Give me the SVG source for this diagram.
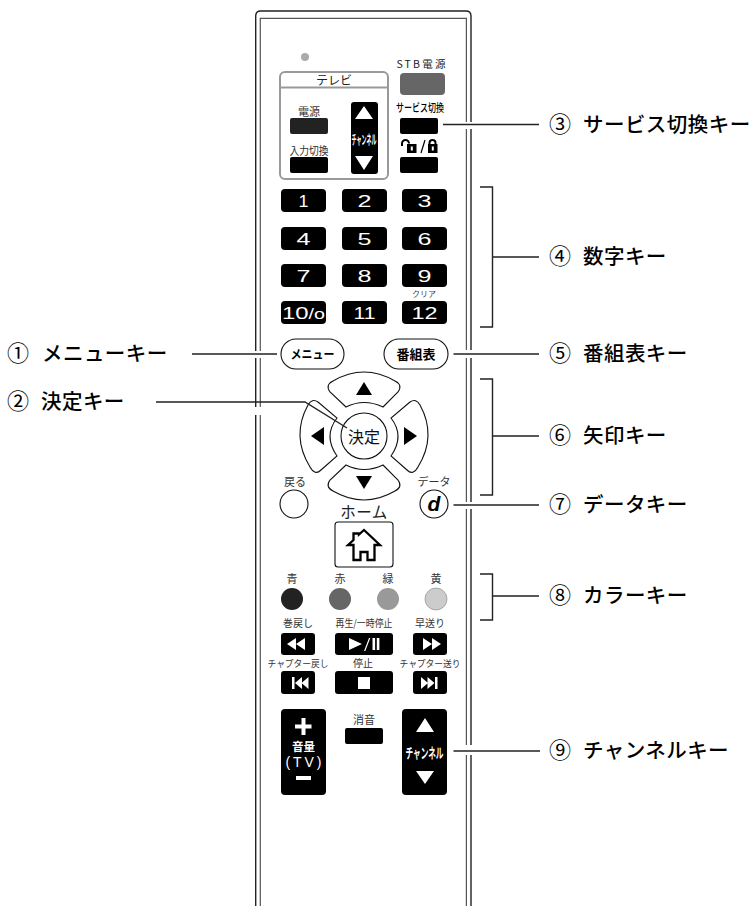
<svg xmlns="http://www.w3.org/2000/svg" width="754" height="906" viewBox="0 0 754 906">
<defs><style>
text{font-family:"Noto Sans CJK JP","Liberation Sans",sans-serif;text-anchor:middle;fill:#222}
.lab{font-size:20.5px;text-anchor:start;fill:#000;letter-spacing:.45px;font-weight:500}
.num{font-size:22px;text-anchor:start;fill:#000}
.s{font-size:11px;fill:#333}
.w{fill:#fff}
.d{font-family:"Liberation Sans",sans-serif;font-size:17px;fill:#fff}
.k{fill:#000}
.o{fill:#fff;stroke:#111;stroke-width:1.1}
.ln{fill:none;stroke:#222;stroke-width:1.4}
.gap{fill:#fff}
</style></defs>
<rect width="754" height="906" fill="#fff"/>
<g id="body" fill="none">
<path d="M255.7 906V16q0-5 5-5H466q5 0 5 5V906" stroke="#222" stroke-width="1.4"/>
<path d="M260.3 906V18.3H466.4V906" stroke="#555" stroke-width="1.2"/>
</g>
<g id="led"><circle cx="305" cy="57" r="4" fill="#aaa"/></g>
<g id="tv-panel">
<rect x="280" y="72" width="108" height="107" rx="5" fill="none" stroke="#999" stroke-width="2"/>
<path d="M280 87.500H388" stroke="#999" stroke-width="2"/>
<text x="334" y="84.500" font-size="12">テレビ</text>
</g>
<g id="tv-power"><text class="s" x="309" y="116">電源</text><rect x="290" y="118" width="38" height="16" rx="2" fill="#222"/></g>
<g id="tv-input"><text class="s" x="309" y="155" textLength="39" lengthAdjust="spacingAndGlyphs">入力切換</text><rect class="k" x="290" y="157" width="38" height="16" rx="2"/></g>
<g id="tv-channel"><rect class="k" x="351" y="102" width="27" height="72" rx="3"/>
<path class="w" d="M364 106l9 13h-18zM364 170l-9-14h18z"/>
<text class="w" x="364" y="144" font-size="13" font-weight="700" textLength="25" lengthAdjust="spacingAndGlyphs">チャンネル</text></g>
<g id="stb-power"><text x="422" y="68" font-size="10.500" letter-spacing="2.200" fill="#333">STB電源</text><rect x="400" y="73" width="45" height="22" rx="4" fill="#666"/></g>
<g id="service"><text x="420" y="112" font-size="11" font-weight="500" textLength="48" lengthAdjust="spacingAndGlyphs" style="fill:#000">サービス切換</text><rect class="k" x="400" y="118" width="38" height="16" rx="2"/></g>
<g id="lock">
<path d="M402 146v-2.500a3.500 3.500 0 0 1 7 0" fill="none" stroke="#000" stroke-width="2"/>
<rect class="k" x="407" y="144" width="9.500" height="9"/><rect class="w" x="410.800" y="146.500" width="2" height="4"/>
<path d="M421 153l4-13" stroke="#000" stroke-width="1.200"/>
<path d="M429.500 145v-2a3 3 0 0 1 6 0v2" fill="none" stroke="#000" stroke-width="2"/>
<rect class="k" x="428" y="144" width="9.500" height="9"/><rect class="w" x="431.800" y="146.500" width="2" height="4"/>
<rect class="k" x="400" y="157" width="38" height="16" rx="2"/></g>
<g id="key-1"><rect class="k" x="281" y="189" width="45" height="23" rx="4"/><text class="d" x="303.500" y="206.500" textLength="10" lengthAdjust="spacingAndGlyphs">1</text></g>
<g id="key-2"><rect class="k" x="342" y="189" width="45" height="23" rx="4"/><text class="d" x="364.500" y="206.500" textLength="14" lengthAdjust="spacingAndGlyphs">2</text></g>
<g id="key-3"><rect class="k" x="402" y="189" width="45" height="23" rx="4"/><text class="d" x="424.500" y="206.500" textLength="14" lengthAdjust="spacingAndGlyphs">3</text></g>
<g id="key-4"><rect class="k" x="281" y="227" width="45" height="23" rx="4"/><text class="d" x="303.500" y="244.500" textLength="14" lengthAdjust="spacingAndGlyphs">4</text></g>
<g id="key-5"><rect class="k" x="342" y="227" width="45" height="23" rx="4"/><text class="d" x="364.500" y="244.500" textLength="14" lengthAdjust="spacingAndGlyphs">5</text></g>
<g id="key-6"><rect class="k" x="402" y="227" width="45" height="23" rx="4"/><text class="d" x="424.500" y="244.500" textLength="14" lengthAdjust="spacingAndGlyphs">6</text></g>
<g id="key-7"><rect class="k" x="281" y="264" width="45" height="23" rx="4"/><text class="d" x="303.500" y="281.500" textLength="14" lengthAdjust="spacingAndGlyphs">7</text></g>
<g id="key-8"><rect class="k" x="342" y="264" width="45" height="23" rx="4"/><text class="d" x="364.500" y="281.500" textLength="14" lengthAdjust="spacingAndGlyphs">8</text></g>
<g id="key-9"><rect class="k" x="402" y="264" width="45" height="23" rx="4"/><text class="d" x="424.500" y="281.500" textLength="14" lengthAdjust="spacingAndGlyphs">9</text></g>
<g id="key-10"><rect class="k" x="281" y="301" width="45" height="23" rx="4"/><text class="d" x="303.500" y="318.500" textLength="43" lengthAdjust="spacingAndGlyphs">10<tspan style="font-size:14px">/o</tspan></text></g>
<g id="key-11"><rect class="k" x="342" y="301" width="45" height="23" rx="4"/><text class="d" x="364.500" y="318.500" textLength="22" lengthAdjust="spacingAndGlyphs">11</text></g>
<g id="key-12"><text x="424" y="297" font-size="8" style="fill:#444">クリア</text><rect class="k" x="402" y="301" width="45" height="23" rx="4"/><text class="d" x="424.500" y="318.500" textLength="26" lengthAdjust="spacingAndGlyphs">12</text></g>
<g id="menu"><rect class="o" x="281" y="339" width="63" height="30" rx="15"/><text x="312.500" y="359" font-size="12.500" font-weight="700" style="fill:#000" textLength="44" lengthAdjust="spacingAndGlyphs">メニュー</text></g>
<g id="guide"><rect class="o" x="384" y="339" width="64" height="30" rx="15"/><text x="416" y="359" font-size="13" font-weight="700" style="fill:#000">番組表</text></g>
<g id="up"><path class="o" d="M346 407Q364 398 383 407L398 392Q403 385 395 381Q364 363 333 381Q325 385 330 392Z"/><path class="k" d="M364 382l8 13h-16z"/></g>
<g id="down"><path class="o" d="M346 465Q364 474 383 465L398 480Q403 487 395 491Q364 509 333 491Q325 487 330 480Z"/><path class="k" d="M364 489l-8-13h16z"/></g>
<g id="left"><path class="o" d="M337 418Q323 436 337 456L321 470Q315 476 310 467Q291 436 308 405Q312 398 318 402Z"/><path class="k" d="M311 436l13-9v18z"/></g>
<g id="right"><path class="o" d="M391 418Q405 436 391 456L407 470Q413 476 418 467Q437 436 420 405Q416 398 410 402Z"/><path class="k" d="M417 436l-13-9v18z"/></g>
<g id="enter"><circle class="o" cx="364" cy="436" r="23"/><text x="364" y="443" font-size="16" style="fill:#111">決定</text></g>
<g id="back"><text class="s" x="295" y="486">戻る</text><circle class="o" cx="294" cy="504" r="14"/></g>
<g id="data"><text class="s" x="434" y="486">データ</text><circle class="o" cx="434" cy="504" r="14" stroke-width="1.400"/><text x="434" y="511" font-size="21" font-weight="700" font-style="italic" style="font-family:'Liberation Sans',sans-serif;fill:#000">d</text></g>
<g id="home"><text x="364" y="518" font-size="15.500" letter-spacing=".5">ホーム</text><rect class="o" x="335" y="522" width="58" height="45" rx="3" stroke-width="1.400"/>
<path d="M364 530L380 545H374.500V560H367.500V552H360.500V560H353.500V545H348L353.500 540V533.500H359V534.500Z" fill="#fff" stroke="#000" stroke-width="2.300"/></g>
<g id="blue"><text class="s" x="292" y="583">青</text><circle cx="292" cy="599" r="11" fill="#222"/></g>
<g id="red"><text class="s" x="340" y="583">赤</text><circle cx="340" cy="599" r="11" fill="#666"/></g>
<g id="green"><text class="s" x="388" y="583">緑</text><circle cx="388" cy="599" r="11" fill="#999"/></g>
<g id="yellow"><text class="s" x="436" y="583">黄</text><circle cx="436" cy="599" r="11" fill="#ccc" stroke="#999" stroke-width=".8"/></g>
<g id="rew"><text class="s" x="298" y="627" style="font-size:10px">巻戻し</text><rect class="k" x="281" y="633" width="34" height="22" rx="3"/><path class="w" d="M287 644l9-6v12zM296 644l9-6v12z"/></g>
<g id="play"><text class="s" x="364" y="627" style="font-size:10px" textLength="57" lengthAdjust="spacingAndGlyphs">再生/一時停止</text><rect class="k" x="335" y="633" width="58" height="22" rx="3"/><path class="w" d="M349 638l13 6-13 6zM364 651l5-13h1.300l-5 13zM372.500 638h2.600v12h-2.600zM376.800 638h2.600v12h-2.600z"/></g>
<g id="ff"><text class="s" x="430" y="627" style="font-size:10px">早送り</text><rect class="k" x="413" y="633" width="34" height="22" rx="3"/><path class="w" d="M423 638l9 6-9 6zM432 638l9 6-9 6z"/></g>
<g id="prev"><text class="s" x="298" y="667" style="font-size:9.500px" textLength="61" lengthAdjust="spacingAndGlyphs">チャプター戻し</text><rect class="k" x="281" y="671" width="34" height="23" rx="3"/><path class="w" d="M292 677h2.500v12H292zM295 683l7-6v12zM301.500 683l7-6v12z"/></g>
<g id="stop"><text class="s" x="363" y="667" style="font-size:10px">停止</text><rect class="k" x="335" y="671" width="58" height="23" rx="3"/><rect class="w" x="358" y="677" width="12" height="12"/></g>
<g id="next"><text class="s" x="430" y="667" style="font-size:9.500px" textLength="61" lengthAdjust="spacingAndGlyphs">チャプター送り</text><rect class="k" x="413" y="671" width="34" height="23" rx="3"/><path class="w" d="M421 677l7 6-7 6zM427.500 677l7 6-7 6zM435 677h2.500v12H435z"/></g>
<g id="volume"><rect class="k" x="281" y="709" width="45" height="86" rx="4"/>
<path class="w" d="M301.500 718h4v6.500h6v4h-6v6.500h-4v-6.500h-6.500v-4h6.500zM296 776h15v4h-15z"/>
<text class="w" x="303.500" y="751" font-size="11.500" font-weight="700">音量</text>
<text class="w" x="303.500" y="767" font-size="14" style="font-family:'Liberation Sans',sans-serif" textLength="36" lengthAdjust="spacing">(TV)</text></g>
<g id="mute"><text class="s" x="364" y="724">消音</text><rect class="k" x="345" y="728" width="38" height="16" rx="2"/></g>
<g id="channel"><rect class="k" x="402" y="709" width="45" height="86" rx="4"/>
<path class="w" d="M425 718l9 14h-18zM425 784l-9-13h18z"/>
<text class="w" x="424.500" y="758" font-size="14" font-weight="700" textLength="38" lengthAdjust="spacingAndGlyphs">チャンネル</text></g>
<g id="connectors">
<rect class="gap" x="254" y="351" width="8" height="7"/>
<rect class="gap" x="254" y="407" width="8" height="8"/>
<rect class="gap" x="465" y="122" width="8" height="7"/>
<rect class="gap" x="465" y="350" width="8" height="8"/>
<rect class="gap" x="465" y="502" width="8" height="7"/>
<rect class="gap" x="465" y="745" width="8" height="10"/>
<path class="ln" d="M192 354H277"/>
<path class="ln" d="M156 402H305L347 428"/>
<path class="ln" d="M443 124.500H539"/>
<path class="ln" d="M480 187H492.500V327H480M492.500 257H539"/>
<path class="ln" d="M453.500 354H539"/>
<path class="ln" d="M480 379H492.500V495H480M492.500 436H539"/>
<path class="ln" d="M453.500 505H539"/>
<path class="ln" d="M480 574H492.500V620H480M492.500 596H539"/>
<path class="ln" d="M453.500 751H540"/>
</g>
<g id="labels">
<text class="num" x="7" y="361">①</text><text class="lab" x="42" y="361">メニューキー</text>
<text class="num" x="7" y="409">②</text><text class="lab" x="41" y="409">決定キー</text>
<text class="num" x="549" y="132">③</text><text class="lab" x="583" y="132">サービス切換キー</text>
<text class="num" x="549" y="264">④</text><text class="lab" x="583" y="264">数字キー</text>
<text class="num" x="549" y="361">⑤</text><text class="lab" x="583" y="361">番組表キー</text>
<text class="num" x="549" y="443">⑥</text><text class="lab" x="583" y="443">矢印キー</text>
<text class="num" x="549" y="512">⑦</text><text class="lab" x="583" y="512">データキー</text>
<text class="num" x="549" y="603">⑧</text><text class="lab" x="583" y="603">カラーキー</text>
<text class="num" x="549" y="758">⑨</text><text class="lab" x="583" y="758">チャンネルキー</text>
</g>
</svg>
